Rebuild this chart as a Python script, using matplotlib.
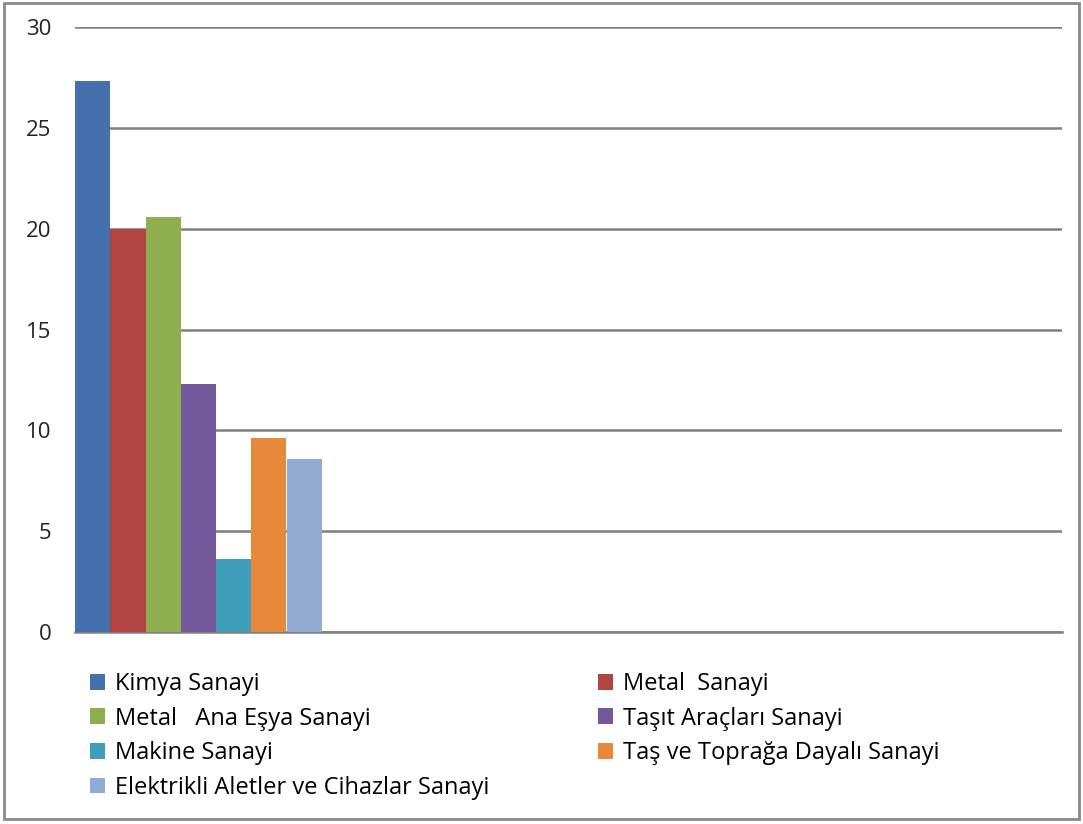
import matplotlib
matplotlib.use("Agg")
import matplotlib.pyplot as plt
from matplotlib.patches import Rectangle, Patch
import numpy as np

series = ["Kimya Sanayi", "Metal  Sanayi", "Metal   Ana Eşya Sanayi", "Taşıt Araçları Sanayi",
          "Makine Sanayi", "Taş ve Toprağa Dayalı Sanayi", "Elektrikli Aletler ve Cihazlar Sanayi"]
values = [27.3, 20.0, 20.6, 12.3, 3.6, 9.6, 8.6]
colors = ["#4470AE", "#B24543", "#8DAF4F", "#72589A", "#3E9DB8", "#E8883A", "#92ABD3"]
yticks = [0, 5, 10, 15, 20, 25, 30]

plt.rcParams['font.family'] = ['Open Sans', 'DejaVu Sans']

fig = plt.figure(figsize=(10.83, 8.24), dpi=100)
ax = fig.add_axes([75/1083, 1-632/824, (1062-75)/1083, (632-27)/824])

n = len(series)
w = 1.0 / n
for i, (v, c) in enumerate(zip(values, colors)):
    ax.bar(-0.5 + w/2 + i*w, v, width=w, color=c, label=series[i], zorder=3, linewidth=0)

ax.set_xlim(-0.5, 3.5)
ax.set_ylim(0, 30)
ax.set_yticks(yticks)
ax.set_yticklabels([str(t) for t in yticks], fontsize=16, color="#222222")
ax.tick_params(axis='y', length=0, pad=17)
ax.set_xticks([])
for s in ["top", "right", "left"]:
    ax.spines[s].set_visible(False)
ax.spines["bottom"].set_color("#7f7f7f")
ax.spines["bottom"].set_linewidth(1.8)
ax.yaxis.grid(True, color="#7f7f7f", linewidth=1.8, zorder=0)
ax.set_axisbelow(True)

order = [0, 2, 4, 6, 1, 3, 5]
handles = [Patch(facecolor=colors[i], edgecolor='none') for i in order]
labels = [series[i] for i in order]
fig.legend(handles, labels, ncol=2, loc="upper left", bbox_to_anchor=(90/1083, 1-672/824),
           frameon=False, fontsize=17, handlelength=0.65, handleheight=0.65, handletextpad=0.4,
           columnspacing=4.6, labelspacing=0.45, borderaxespad=0, borderpad=0)

fig.patches.append(Rectangle((4/1083, 5/824), 1075/1083, 816/824, transform=fig.transFigure,
                             fill=False, edgecolor="#8a8a8a", linewidth=2))

fig.savefig("out.png", dpi=100)
